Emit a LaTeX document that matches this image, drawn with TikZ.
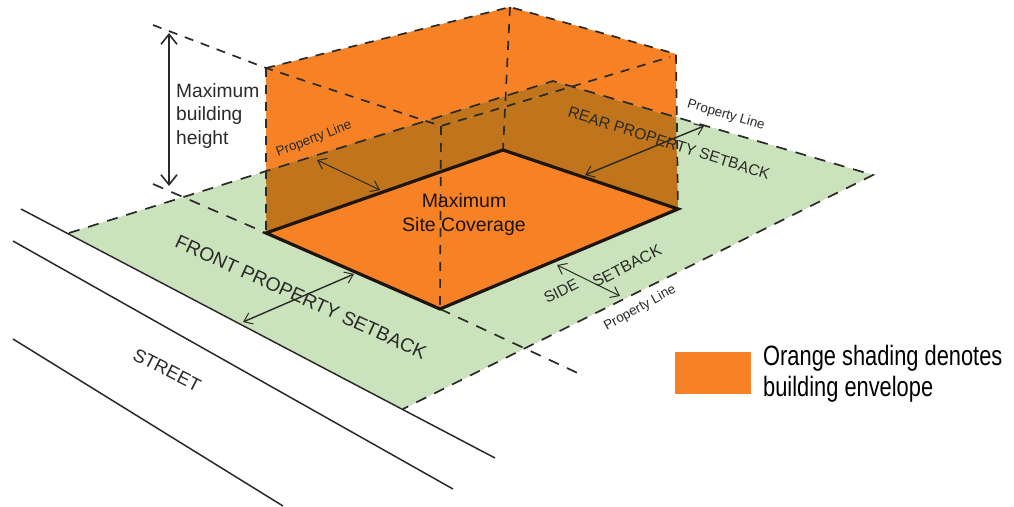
\documentclass[tikz,border=0pt]{standalone}
\usepackage{fontspec}
\setmainfont{Liberation Sans}
\newfontfamily\narrowfont[FakeStretch=0.78]{Liberation Sans}
\usetikzlibrary{arrows.meta}
\definecolor{siteGreen}{HTML}{CBE3BC}
\definecolor{envOrange}{HTML}{F68225}
\definecolor{envBrown}{HTML}{C0741B}
\definecolor{inkDark}{HTML}{2B2A29}
\definecolor{edgeDark}{HTML}{1E1410}
\tikzset{
  x=1pt,y=-1pt,
  propline/.style={preaction={draw=gray!60,line width=.6pt,dash pattern=on 1pt off 19pt,dash phase=4pt},draw=inkDark,line width=1.7pt,dash pattern=on 11pt off 9pt},
  envline/.style={preaction={draw=gray!60,line width=.6pt,dash pattern=on 1pt off 16pt,dash phase=3.5pt},draw=inkDark,line width=1.7pt,dash pattern=on 9pt off 8pt},
  streetline/.style={draw=inkDark,line width=1.5pt},
  coverage/.style={draw=edgeDark,line width=3.2pt,line cap=butt,line join=miter},
  thinarrow/.style={draw=inkDark,line width=1pt,{Straight Barb[length=8pt,width=12pt,line width=1pt]}-{Straight Barb[length=8pt,width=12pt,line width=1pt]}},
  bigarrow/.style={draw=inkDark,line width=1.6pt,{Straight Barb[length=10pt,width=16pt,line width=1.6pt]}-{Straight Barb[length=10pt,width=16pt,line width=1.6pt]}},
  label/.style={text=inkDark,inner sep=0pt},
  small/.style={text=inkDark,inner sep=0pt,font=\fontsize{13.4}{15}\selectfont},
  big/.style={text=edgeDark,inner sep=0pt,align=center,font=\fontsize{19.2}{23.5}\selectfont},
}
\begin{document}
\begin{tikzpicture}
\useasboundingbox (0,0) rectangle (1014,506);
% site corners
\coordinate (sL) at (69,233);
\coordinate (sT) at (553,81);
\coordinate (sR) at (873,175);
\coordinate (sB) at (403,409);
% envelope corners
\coordinate (gA) at (266,233);
\coordinate (gB) at (503,150);
\coordinate (gC) at (678,209);
\coordinate (gD) at (440,309);
\coordinate (tA) at (266,68);
\coordinate (tB) at (510,7);
\coordinate (tC) at (676,54);
\coordinate (tD) at (441,126);
\coordinate (cC) at (670,57);
\coordinate (bandA) at (266,170);
\coordinate (bandC) at (676,118);
\coordinate (hiEnd) at (153,25);
\coordinate (loEnd) at (153,184);
\coordinate (frontEnd) at (582,375);
% street ends
\coordinate (s1a) at (21,209);
\coordinate (s1b) at (495,458);
\coordinate (s2a) at (13,241);
\coordinate (s2b) at (453,489);
\coordinate (s3a) at (13,339);
\coordinate (s3b) at (283,506);
% arrows
\coordinate (hTop) at (169,33);
\coordinate (hBot) at (169,186);
\coordinate (plA) at (317,160);
\coordinate (plB) at (380,190);
\coordinate (rearA) at (585,175);
\coordinate (rearB) at (704,126);
\coordinate (sideA) at (557,265);
\coordinate (sideB) at (620,296);
\coordinate (frontA) at (243,322);
\coordinate (frontB) at (354,274);
% fills
\fill[siteGreen] (sL) -- (sT) -- (sR) -- (sB) -- cycle;
\fill[envOrange] (tA) -- (tB) -- (tC) -- (bandC) -- (sT) -- (bandA) -- cycle;
\fill[envBrown] (gA) -- (bandA) -- (sT) -- (bandC) -- (gC) -- (gB) -- cycle;
\fill[envOrange] (gA) -- (gB) -- (gC) -- (gD) -- cycle;
% street
\draw[streetline] (s1a) -- (s1b);
\draw[streetline] (s2a) -- (s2b);
\draw[streetline] (s3a) -- (s3b);
% property lines
\draw[propline] (sL) -- (sT) -- (sR) -- (sB);
\draw[propline] (loEnd) -- (gA);
\draw[propline] (gD) -- (frontEnd);
% envelope
\draw[envline] (hiEnd) -- (tA) -- (tD) -- (cC);
\draw[envline] (tA) -- (tB) -- (tC) -- (gC);
\draw[envline] (tA) -- (gA);
\draw[envline] (tB) -- (gB);
\draw[envline] (tD) -- (gD);
\draw[coverage] (gA) -- (gB) -- (gC) -- (gD) -- cycle;
% arrows
\draw[bigarrow] (hTop) -- (hBot);
\draw[thinarrow] (plA) -- (plB);
\draw[thinarrow,line width=1.4pt] (rearA) -- (rearB);
\draw[thinarrow] (sideA) -- (sideB);
\draw[thinarrow,line width=1.4pt] (frontA) -- (frontB);
% texts
\node[big,align=left,anchor=north west,text=inkDark] (heightT) at (176,83) {Maximum\\building\\height};
\node[big,font=\fontsize{19.5}{24}\selectfont] (covT) at (464,214.5) {Maximum\\Site Coverage};
\node[small,rotate=21] (pl1) at (314,139) {Property Line};
\node[small,rotate=-16] (pl2) at (726,115) {Property Line};
\node[small,rotate=29] (pl3) at (640,308) {Property Line};
\node[label,rotate=-17.5,font=\fontsize{15.6}{18}\selectfont] (rearT) at (669,143) {REAR PROPERTY SETBACK};
\node[label,rotate=-24.5,font=\fontsize{19.3}{22}\selectfont] (frontT) at (301,297) {FRONT PROPERTY SETBACK};
\node[label,rotate=27,font=\fontsize{15.5}{18}\selectfont] (sideT) at (561,291) {SIDE};
\node[label,rotate=27,font=\fontsize{16}{18}\selectfont] (setT) at (627,266) {SETBACK};
\node[label,rotate=-27,font=\fontsize{18.5}{21}\selectfont] (streetT) at (167,370) {STREET};
% legend
\node[fill=envOrange,minimum width=76pt,minimum height=42pt,inner sep=0pt,anchor=north west] (legend) at (675,352) {};
\node[anchor=north west,inner sep=0pt,align=left,text=black,font=\fontsize{28}{31}\selectfont\narrowfont] (legendT) at (763,345) {Orange shading denotes\\building envelope};
\end{tikzpicture}
\end{document}
